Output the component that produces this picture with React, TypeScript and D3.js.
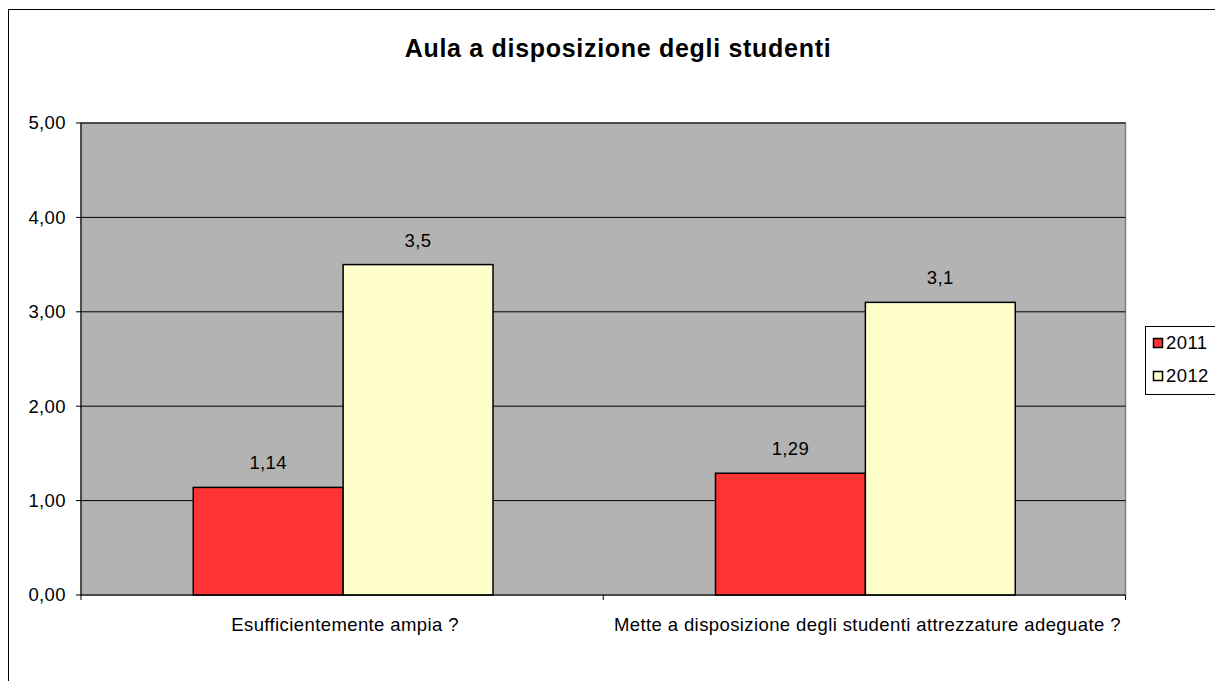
import React from "react";
import * as d3 from "d3";

const title = "Aula a disposizione degli studenti";
const categories = ["Esufficientemente ampia ?", "Mette a disposizione degli studenti attrezzature adeguate ?"];
const seriesNames = ["2011", "2012"];
const values2011 = [1.14, 1.29];
const values2012 = [3.5, 3.1];
const labels2011 = ["1,14", "1,29"];
const labels2012 = ["3,5", "3,1"];
const yTicks = [0, 1, 2, 3, 4, 5];
const yTickLabels = ["0,00", "1,00", "2,00", "3,00", "4,00", "5,00"];
const colors = ["#ff3333", "#ffffcc"];

export default function App() {
  const W = 1215, H = 681;
  const plot = { left: 81, right: 1125.5, top: 123, bottom: 595 };
  const x0 = d3.scaleBand<string>().domain(categories).range([plot.left, plot.right]).paddingInner(0).paddingOuter(0);
  const y = d3.scaleLinear().domain([0, 5]).range([plot.bottom, plot.top]);
  const bw = x0.bandwidth();
  const barW = bw * 0.287;
  const groupW = barW * 2;
  const font = "Arial, 'Liberation Sans', sans-serif";
  const fs = 18.5;
  const ls = 0.4;
  const series = [
    { name: seriesNames[0], vals: values2011, labels: labels2011, color: colors[0] },
    { name: seriesNames[1], vals: values2012, labels: labels2012, color: colors[1] },
  ];
  return (
    <svg width={W} height={H} style={{ position: "fixed", left: 0, top: 0, background: "#fff" }}>
      <rect x={8.5} y={9.5} width={1240} height={700} fill="#fff" stroke="#000" strokeWidth={1} />
      <text x={618} y={57} textAnchor="middle" fontFamily={font} fontWeight="bold" fontSize={25} letterSpacing={0.7} fill="#000">{title}</text>
      <rect x={plot.left} y={plot.top} width={plot.right - plot.left} height={plot.bottom - plot.top} fill="#b3b3b3" stroke="#808080" strokeWidth={1.5} />
      {yTicks.slice(1).map((t) => (
        <line key={t} x1={plot.left} x2={plot.right} y1={y(t)} y2={y(t)} stroke="#000" strokeWidth={1} />
      ))}
      {categories.map((c, ci) => {
        const start = (x0(c) as number) + (bw - groupW) / 2 + 1;
        return series.map((s, si) => {
          const bx = start + si * barW;
          return (
            <g key={c + s.name}>
              <rect x={bx} y={y(s.vals[ci])} width={barW} height={y(0) - y(s.vals[ci])} fill={s.color} stroke="#000" strokeWidth={1.5} />
              <text x={bx + barW / 2} y={y(s.vals[ci]) - 18} textAnchor="middle" fontFamily={font} fontSize={fs} letterSpacing={ls} fill="#000">{s.labels[ci]}</text>
            </g>
          );
        });
      })}
      <line x1={plot.left} x2={plot.left} y1={plot.top} y2={plot.bottom} stroke="#000" strokeWidth={1} />
      <line x1={plot.left} x2={plot.right} y1={plot.bottom} y2={plot.bottom} stroke="#000" strokeWidth={1} />
      {yTicks.map((t, i) => (
        <g key={"yt" + t}>
          <line x1={plot.left - 5} x2={plot.left} y1={y(t)} y2={y(t)} stroke="#000" />
          <text x={66} y={y(t)} dy="0.35em" textAnchor="end" fontFamily={font} fontSize={fs} letterSpacing={ls} fill="#000">{yTickLabels[i]}</text>
        </g>
      ))}
      {[...categories.map((c) => x0(c) as number), plot.right].map((xv, i) => (
        <line key={"xt" + i} x1={xv} x2={xv} y1={plot.bottom} y2={plot.bottom + 5} stroke="#000" />
      ))}
      {categories.map((c) => (
        <text key={"xl" + c} x={(x0(c) as number) + bw / 2 + 3} y={631} textAnchor="middle" fontFamily={font} fontSize={fs} letterSpacing={ls} fill="#000">{c}</text>
      ))}
      <rect x={1145.5} y={326.5} width={100} height={68} fill="#fff" stroke="#000" strokeWidth={1} />
      {series.map((s, i) => (
        <g key={"lg" + s.name}>
          <rect x={1153.5} y={338.5 + i * 33} width={9} height={9} fill={s.color} stroke="#000" strokeWidth={1.5} />
          <text x={1166} y={343 + i * 33} dy="0.35em" fontFamily={font} fontSize={fs} letterSpacing={ls} fill="#000">{s.name}</text>
        </g>
      ))}
    </svg>
  );
}
